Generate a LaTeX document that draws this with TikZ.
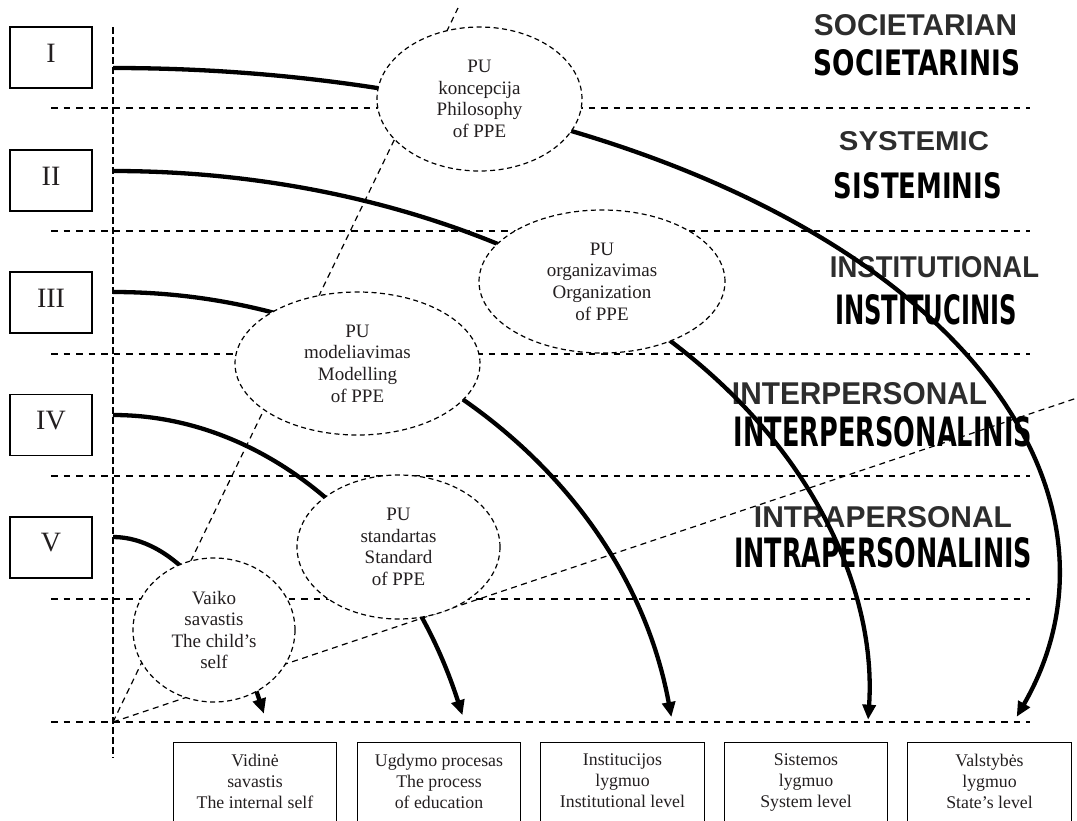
\documentclass[tikz,border=0pt]{standalone}
\usepackage{fontspec}
\usepackage{graphicx}
\setmainfont{Liberation Serif}
\newfontfamily\arialfont{Liberation Sans}
\newfontfamily\dvfont{DejaVu Sans}
\usetikzlibrary{shapes.geometric,arrows.meta}
\definecolor{txt}{RGB}{35,31,32}
\definecolor{engl}{RGB}{45,45,45}
\tikzset{
  guide/.style={line width=1.25pt, dash pattern=on 6.5pt off 6pt},
  vguide/.style={line width=1.25pt, dash pattern=on 6.5pt off 3.5pt},
  diag/.style={line width=1.2pt, dash pattern=on 6pt off 4.5pt},
  arcline/.style={line width=4.3pt, -{Triangle[length=15pt,width=13pt]}},
  bubble/.style={ellipse, draw, fill=white, line width=1.2pt, dash pattern=on 5pt off 3.5pt,
    inner sep=0pt, align=center, text=txt, font=\fontsize{19}{21.6}\selectfont},
  levelbox/.style={draw, line width=1.3pt, minimum width=82pt, minimum height=61pt, inner sep=0pt},
  numeral/.style={text=txt, font=\fontsize{28}{28}\selectfont, inner sep=0pt},
  outbox/.style={draw, line width=1.3pt, minimum width=163.5pt, minimum height=100pt, anchor=north, inner sep=0pt},
  outtext/.style={anchor=north, inner sep=0pt, align=center, text=txt, font=\fontsize{17.8}{21}\selectfont},
  eng/.style={inner sep=0pt, text=engl},
  lit/.style={inner sep=0pt, text=black},
}
\begin{document}
\begin{tikzpicture}[x=1pt,y=-1pt]
\useasboundingbox (0,0) rectangle (1077,820);
\clip (0,0) rectangle (1077,820);

% level labels on the right
\node[eng] (t1e) at (915.5,25.5) {\resizebox{203pt}{21pt}{\arialfont\bfseries SOCIETARIAN}};
\node[lit] (t1l) at (917,63) {\resizebox{206pt}{26pt}{\dvfont\bfseries SOCIETARINIS}};
\node[eng] (t2e) at (914,141) {\resizebox{150pt}{19pt}{\arialfont\bfseries SYSTEMIC}};
\node[lit] (t2l) at (918,186) {\resizebox{168pt}{26pt}{\dvfont\bfseries SISTEMINIS}};
\node[eng] (t3e) at (934.5,267.5) {\resizebox{209pt}{21pt}{\arialfont\bfseries INSTITUTIONAL}};
\node[lit] (t3l) at (926,310) {\resizebox{182pt}{30pt}{\dvfont\bfseries INSTITUCINIS}};
\node[eng] (t4e) at (859.5,394) {\resizebox{255pt}{22pt}{\arialfont\bfseries INTERPERSONAL}};
\node[lit] (t4l) at (883,432) {\resizebox{298pt}{30pt}{\dvfont\bfseries INTERPERSONALINIS}};
\node[eng] (t5e) at (883,517.5) {\resizebox{258pt}{21pt}{\arialfont\bfseries INTRAPERSONAL}};
\node[lit] (t5l) at (883,553) {\resizebox{298pt}{30pt}{\dvfont\bfseries INTRAPERSONALINIS}};

% guide lines
\coordinate (O) at (113,722);
\coordinate (vtop) at (113,27);
\coordinate (vbot) at (113,758);
\coordinate (Atop) at (458,8);
\coordinate (Bend) at (1077,398);
\draw[vguide] (vtop) -- (vbot);
\foreach \yy in {108,231,354,476,599,722}
  \draw[guide] (51,\yy) -- (1030,\yy);
\draw[diag] (O) -- (Atop);
\draw[diag] (O) -- (Bend);

% arcs
\coordinate (s1) at (113,68);
\coordinate (s2) at (113,171);
\coordinate (s3) at (113,292);
\coordinate (s4) at (113,415);
\coordinate (s5) at (113,537);
\draw[arcline] (s1) arc[start angle=90, end angle=-17, x radius=945pt, y radius=502pt];
\draw[arcline] (s2) arc[start angle=90, end angle=-2.7, x radius=756pt, y radius=524pt];
\draw[arcline] (s3) arc[start angle=90, end angle=9.4, x radius=566pt, y radius=508pt];
\draw[arcline] (s4) arc[start angle=90, end angle=22.4, x radius=378pt, y radius=485pt];
\draw[arcline] (s5) arc[start angle=90, end angle=38.2, x radius=192pt, y radius=463pt];

% ellipses
\node[bubble, minimum width=205pt, minimum height=144pt] (e1) at (479.5,99) {PU\\koncepcija\\Philosophy\\of PPE};
\node[bubble, minimum width=246pt, minimum height=143pt] (e2) at (602,281.5) {PU\\organizavimas\\Organization\\of PPE};
\node[bubble, minimum width=245pt, minimum height=143pt] (e3) at (357.5,363.5) {PU\\modeliavimas\\Modelling\\of PPE};
\node[bubble, minimum width=203pt, minimum height=144pt] (e4) at (398.5,547) {PU\\standartas\\Standard\\of PPE};
\node[bubble, minimum width=162pt, minimum height=144pt] (e5) at (214,630) {Vaiko\\savastis\\The child’s\\self};

% left level boxes
\node[levelbox] (b1) at (51,57.5) {};
\node[levelbox] (b2) at (51,180.5) {};
\node[levelbox] (b3) at (51,302.5) {};
\node[levelbox] (b4) at (51,425) {};
\node[levelbox] (b5) at (51,547.5) {};
\node[numeral] (n1) at ([yshift=4.5pt]b1.center) {I};
\node[numeral] (n2) at ([yshift=4.5pt]b2.center) {II};
\node[numeral] (n3) at ([yshift=4.5pt]b3.center) {III};
\node[numeral] (n4) at ([yshift=4.5pt]b4.center) {IV};
\node[numeral] (n5) at ([yshift=4.5pt]b5.center) {V};

% bottom boxes
\node[outbox] (o1) at (255,742) {};
\node[outbox] (o2) at (439,742) {};
\node[outbox] (o3) at (622.5,742) {};
\node[outbox] (o4) at (806,742) {};
\node[outbox] (o5) at (989.5,742) {};
\node[outtext] (x1) at ([yshift=-11.8pt]o1.north) {Vidinė\\savastis\\The internal self};
\node[outtext] (x2) at ([yshift=-11.8pt]o2.north) {Ugdymo procesas\\The process\\of education};
\node[outtext] (x3) at ([yshift=-11.8pt]o3.north) {Institucijos\\lygmuo\\Institutional level};
\node[outtext] (x4) at ([yshift=-11.8pt]o4.north) {Sistemos\\lygmuo\\System level};
\node[outtext] (x5) at ([yshift=-11.8pt]o5.north) {Valstybės\\lygmuo\\State’s level};
\end{tikzpicture}
\end{document}
